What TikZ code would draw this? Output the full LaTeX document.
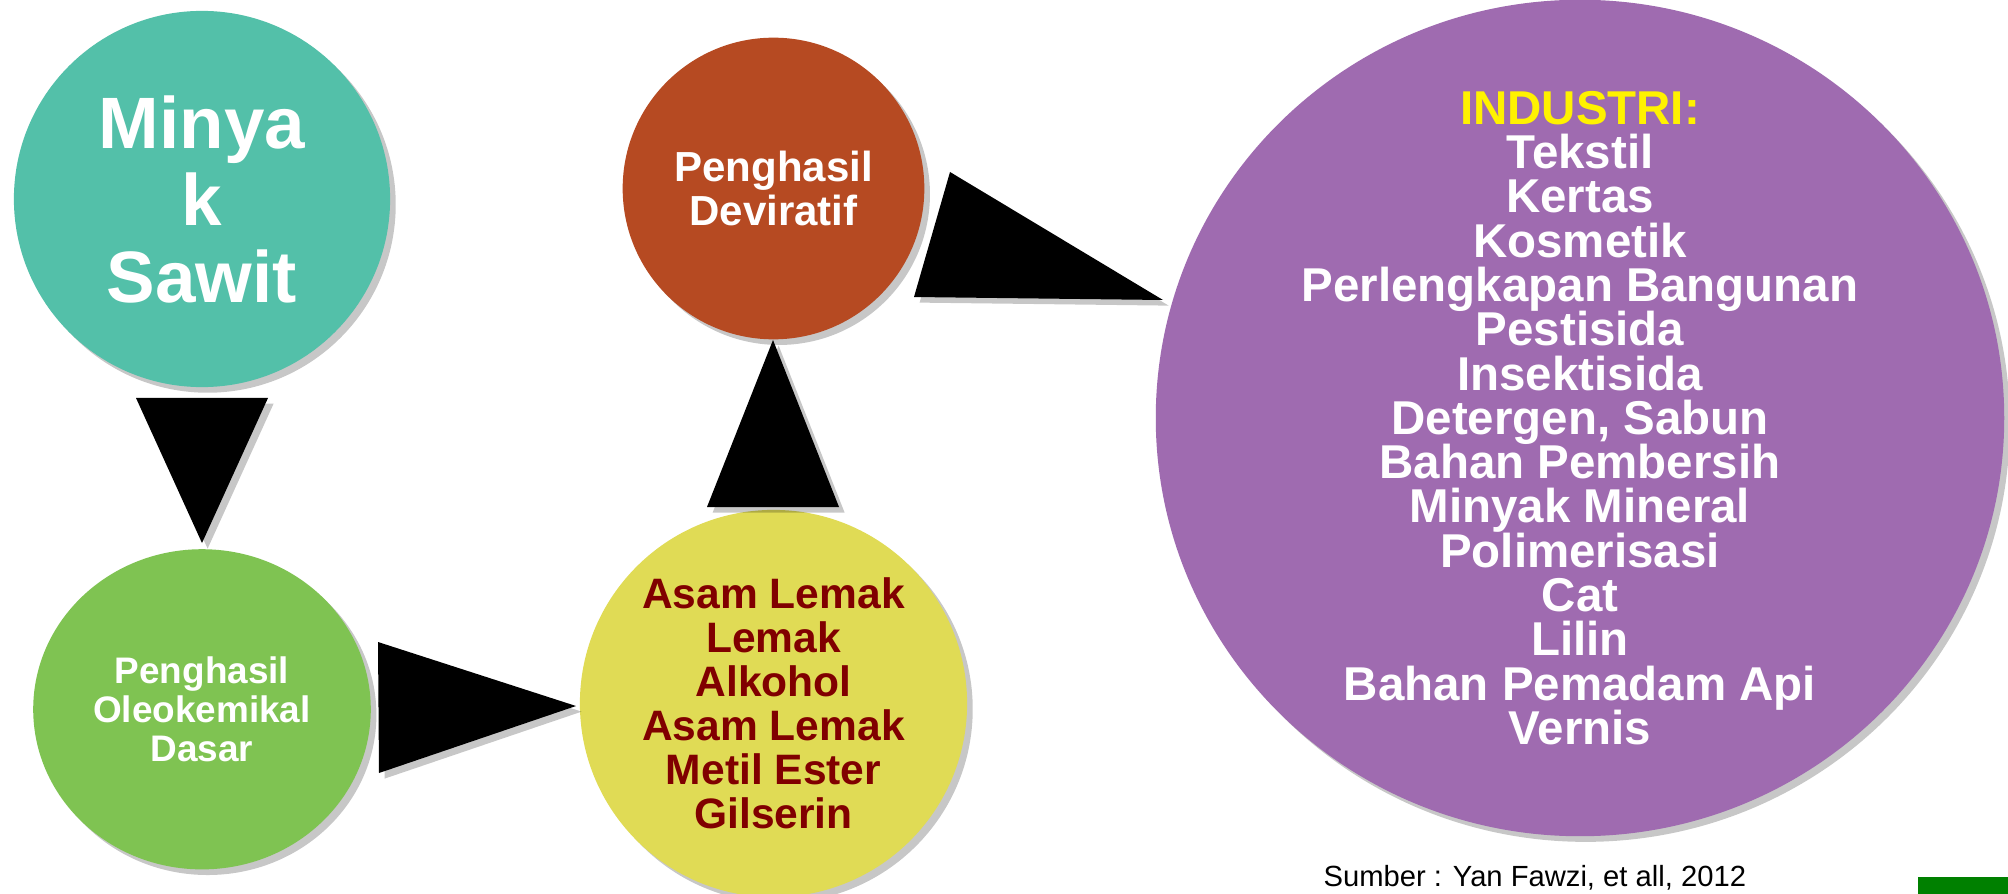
\documentclass[tikz,border=0pt]{standalone}
\usepackage{fontspec}
\setmainfont{Liberation Sans}
\usetikzlibrary{shapes.geometric,shadows}
\definecolor{tosca}{HTML}{53C0A9}
\definecolor{bata}{HTML}{B64A22}
\definecolor{daun}{HTML}{7FC352}
\definecolor{kuning}{HTML}{E0DB55}
\definecolor{ungu}{HTML}{9F6BB0}
\definecolor{merahtua}{HTML}{800000}
\definecolor{hijau}{HTML}{008000}
\newcommand\huruf[2]{\bfseries\fontsize{#1}{#2}\selectfont\lineskiplimit=-1em\relax}
\begin{document}
\begin{tikzpicture}[x=0.01cm, y=-0.01cm,
  bola/.style={circle, inner sep=0pt, align=center, text=white,
    drop shadow={fill=black, opacity=0.22, shadow xshift=1.6pt, shadow yshift=-1.6pt}},
  panah/.style={fill=black,
    drop shadow={fill=black, opacity=0.22, shadow xshift=1.6pt, shadow yshift=-1.6pt}}]
\useasboundingbox (0,0) rectangle (2008,894);
\fill[white] (0,0) rectangle (2008,894);
\clip (0,0) rectangle (2008,894);
\node[bola, fill=tosca, minimum size=3.76cm, font=\huruf{20.7}{21.9}] (minyak) at (202,199) {Minya\\k\\Sawit};
\node[bola, fill=bata, minimum size=3.015cm, font=\huruf{11.95}{12.3}] (deviratif) at (773.5,188.5) {Penghasil\\Deviratif};
\node[bola, ellipse, fill=daun, minimum width=3.374cm, minimum height=3.2cm, font=\huruf{10.5}{11.05}] (oleo) at (202,709.3) {Penghasil\\Oleokemikal\\Dasar};
\node[bola, fill=kuning, text=merahtua, minimum size=3.87cm, font=\huruf{12.1}{12.5}] (asam) at (773.5,703.5) {Asam Lemak\\Lemak\\Alkohol\\Asam Lemak\\Metil Ester\\Gilserin};
\node[bola, ellipse, fill=ungu, minimum width=8.48cm, minimum height=8.36cm] (industri) at (1580,418) {};
\node[align=center, text=white, inner sep=0pt, font=\huruf{13.5}{12.6}] (daftar) at (industri.center) {\textcolor{yellow}{INDUSTRI:}\\Tekstil\\Kertas\\Kosmetik\\Perlengkapan Bangunan\\Pestisida\\Insektisida\\Detergen, Sabun\\Bahan Pembersih\\Minyak Mineral\\Polimerisasi\\Cat\\Lilin\\Bahan Pemadam Api\\Vernis};
\fill[panah] (136,398) -- (268,398) -- (202,543) -- cycle;
\fill[panah] (378,642) -- (379,773) -- (576,706) -- cycle;
\fill[panah] (707,507) -- (839,507) -- (773,340) -- cycle;
\fill[panah] (950,172) -- (914,297) -- (1163,300) -- cycle;
\node[anchor=base west, inner sep=0pt, font=\fontsize{8.3}{10}\selectfont] (sumber) at (1323,886) {Sumber : Yan Fawzi, et all, 2012};
\fill[hijau] (1918,877) rectangle (2008,894);
\end{tikzpicture}
\end{document}
